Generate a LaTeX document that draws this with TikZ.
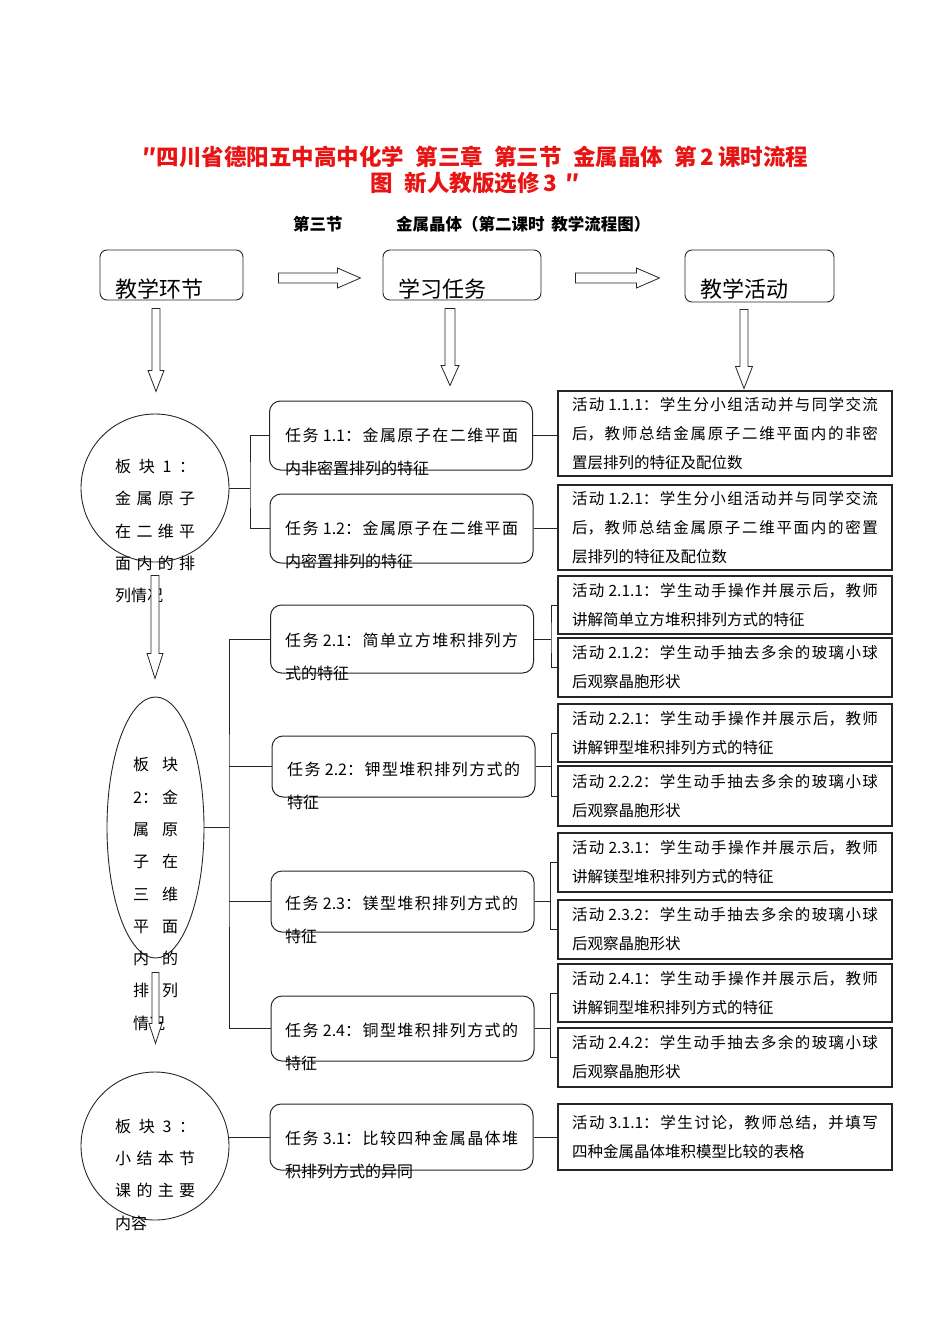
\documentclass[tikz,border=0pt]{standalone}
\usepackage{fontspec}
\setmainfont{Noto Sans CJK SC}
\XeTeXlinebreaklocale "zh"
\XeTeXlinebreakskip=0pt plus 4pt
\usepackage{xcolor}
\usepackage{tikz}
\usetikzlibrary{shapes.geometric}
\definecolor{titlered}{RGB}{232,20,20}
\tikzset{
  headbox/.style={draw=black!85,line width=0.9pt,rounded corners=7pt,inner sep=0pt},
  headtext/.style={font=\fontsize{22pt}{26pt}\selectfont,inner sep=0pt},
  taskbox/.style={draw=black!85,line width=1pt,rounded corners=11pt,minimum width=263pt,inner sep=0pt},
  tasktext/.style={font=\fontsize{16pt}{33pt}\selectfont,text width=233pt,align=justify,inner sep=0pt},
  actbox/.style={draw=black!85,line width=1.3pt,text width=306pt,inner xsep=14pt,inner ysep=0pt,align=justify,font=\fontsize{15.5pt}{29pt}\selectfont},
  blocktext/.style={font=\fontsize{16pt}{32.3pt}\selectfont,inner sep=0pt,align=left},
  blockshape/.style={draw=black!85,line width=0.9pt,inner sep=0pt},
  arrowshape/.style={draw=black!85,line width=0.8pt,fill=white},
  link/.style={draw=black!85,line width=1pt}
}

\begin{document}
\begin{tikzpicture}[x=1pt,y=-1pt]
%\draw[color=black!20,step=50] (0,0) grid (950,1344);
\useasboundingbox (0,0) rectangle (950,1344);
\node[font=\fontsize{22.5pt}{26pt}\selectfont\bfseries,text=titlered,align=center,inner sep=0pt] (title) at (475.5,170) {″四川省德阳五中高中化学\hspace{0.5em}第三章\hspace{0.5em}第三节\hspace{0.5em}金属晶体\hspace{0.5em}第\,2\,课时流程\\图\hspace{0.5em}新人教版选修\,3\hspace{0.4em}″};
\node[font=\fontsize{16.5pt}{20pt}\selectfont\bfseries,anchor=west,inner sep=0pt] (sub1) at (293,224) {第三节};
\node[font=\fontsize{16.5pt}{20pt}\selectfont\bfseries,anchor=west,inner sep=0pt] (sub2) at (396,224) {金属晶体（第二课时\hspace{0.4em}教学流程图）};
% header row
\node[headbox,minimum width=143pt,minimum height=50pt] (h1) at (171.5,275) {};
\node[headbox,minimum width=158pt,minimum height=50pt] (h2) at (462,275) {};
\node[headbox,minimum width=149pt,minimum height=52pt] (h3) at (759.5,276) {};
\node[headtext,anchor=west] (h1t) at (115,289) {教学环节};
\node[headtext,anchor=west] (h2t) at (398,289) {学习任务};
\node[headtext,anchor=west] (h3t) at (700,289) {教学活动};
\begin{scope}[shift={(h1.east)}]
\draw[arrowshape] (35,-2) -- (94,-2) -- (94,-7) -- (117,3) -- (94,13) -- (94,8) -- (35,8) -- cycle;
\end{scope}
\begin{scope}[shift={(h2.east)}]
\draw[arrowshape] (34,-2) -- (95,-2) -- (95,-7) -- (118,3) -- (95,13) -- (95,8) -- (34,8) -- cycle;
\end{scope}
\begin{scope}[shift={([xshift=-15.5pt]h1.south)}]
\draw[arrowshape] (-4,8) -- (4,8) -- (4,70) -- (8,70) -- (0,91) -- (-8,70) -- (-4,70) -- cycle;
\end{scope}
\begin{scope}[shift={([xshift=-12pt]h2.south)}]
\draw[arrowshape] (-5,8) -- (5,8) -- (5,65) -- (9,65) -- (0,85) -- (-9,65) -- (-5,65) -- cycle;
\end{scope}
\begin{scope}[shift={([xshift=-15.5pt]h3.south)}]
\draw[arrowshape] (-4,7) -- (4,7) -- (4,64) -- (8.5,64) -- (0,86) -- (-8.5,64) -- (-4,64) -- cycle;
\end{scope}
% blocks
\node[blockshape,circle,minimum size=148pt] (c1) at (155,488) {};
\node[blockshape,ellipse,minimum width=97pt,minimum height=261pt] (c2) at (155.5,827.5) {};
\node[blockshape,circle,minimum size=148pt] (c3) at (155,1146) {};
\node[blocktext,anchor=west] (c1t) at (115,531) {\makebox[80pt][s]{板\hfill 块\hfill 1\hfill ：}\\\makebox[80pt][s]{金\hfill 属\hfill 原\hfill 子}\\\makebox[80pt][s]{在\hfill 二\hfill 维\hfill 平}\\\makebox[80pt][s]{面\hfill 内\hfill 的\hfill 排}\\列情况};
\node[blocktext,anchor=west] (c2t) at (133,894) {\makebox[45pt][s]{板\hfill 块}\\\makebox[45pt][s]{2：\hfill 金}\\\makebox[45pt][s]{属\hfill 原}\\\makebox[45pt][s]{子\hfill 在}\\\makebox[45pt][s]{三\hfill 维}\\\makebox[45pt][s]{平\hfill 面}\\\makebox[45pt][s]{内\hfill 的}\\\makebox[45pt][s]{排\hfill 列}\\情况};
\node[blocktext,anchor=west] (c3t) at (115,1174.5) {\makebox[80pt][s]{板\hfill 块\hfill 3\hfill ：}\\\makebox[80pt][s]{小\hfill 结\hfill 本\hfill 节}\\\makebox[80pt][s]{课\hfill 的\hfill 主\hfill 要}\\内容};
\begin{scope}[shift={(c1.south)}]
\draw[arrowshape] (-4,13) -- (4,13) -- (4,91) -- (8,91) -- (0,116) -- (-8,91) -- (-4,91) -- cycle;
\end{scope}
\begin{scope}[shift={(c2.south)}]
\draw[arrowshape] (-3.5,14) -- (3.5,14) -- (3.5,65) -- (6.5,65) -- (0,85) -- (-6.5,65) -- (-3.5,65) -- cycle;
\end{scope}
% tasks
\node[taskbox,minimum height=69pt] (t11) at (401,435.5) {};
\node[taskbox,minimum height=69pt] (t12) at (401.5,528.5) {};
\node[taskbox,minimum height=68pt] (t21) at (402,639) {};
\node[taskbox,minimum height=61pt] (t22) at (403.5,766.5) {};
\node[taskbox,minimum height=61pt] (t23) at (402.5,901.5) {};
\node[taskbox,minimum height=65pt] (t24) at (402.5,1028.5) {};
\node[taskbox,minimum height=66pt] (t31) at (401.5,1137) {};
\node[tasktext,anchor=west] (t11t) at (285,451.5) {任务 1.1：金属原子在二维平面\linebreak 内非密置排列的特征};
\node[tasktext,anchor=west] (t12t) at (285,544.5) {任务 1.2：金属原子在二维平面\linebreak 内密置排列的特征};
\node[tasktext,anchor=west] (t21t) at (285,656.5) {任务 2.1：简单立方堆积排列方\linebreak 式的特征};
\node[tasktext,anchor=west] (t22t) at (287,785.5) {任务 2.2：钾型堆积排列方式的\linebreak 特征};
\node[tasktext,anchor=west] (t23t) at (285,920) {任务 2.3：镁型堆积排列方式的\linebreak 特征};
\node[tasktext,anchor=west] (t24t) at (285,1046.5) {任务 2.4：铜型堆积排列方式的\linebreak 特征};
\node[tasktext,anchor=west] (t31t) at (285,1154.5) {任务 3.1：比较四种金属晶体堆\linebreak 积排列方式的异同};
% activities
\node[actbox,minimum height=85pt] (a111) at (725,433.5) {活动 1.1.1：学生分小组活动并与同学交流\linebreak 后，教师总结金属原子二维平面内的非密\linebreak 置层排列的特征及配位数};
\node[actbox,minimum height=85pt] (a121) at (725,527.5) {活动 1.2.1：学生分小组活动并与同学交流\linebreak 后，教师总结金属原子二维平面内的密置\linebreak 层排列的特征及配位数};
\node[actbox,minimum height=58pt] (a211) at (725,605) {活动 2.1.1：学生动手操作并展示后，教师\linebreak 讲解简单立方堆积排列方式的特征};
\node[actbox,minimum height=59pt] (a212) at (725,667.5) {活动 2.1.2：学生动手抽去多余的玻璃小球\linebreak 后观察晶胞形状};
\node[actbox,minimum height=58pt] (a221) at (725,733) {活动 2.2.1：学生动手操作并展示后，教师\linebreak 讲解钾型堆积排列方式的特征};
\node[actbox,minimum height=60pt] (a222) at (725,796) {活动 2.2.2：学生动手抽去多余的玻璃小球\linebreak 后观察晶胞形状};
\node[actbox,minimum height=59pt] (a231) at (725,862.5) {活动 2.3.1：学生动手操作并展示后，教师\linebreak 讲解镁型堆积排列方式的特征};
\node[actbox,minimum height=59pt] (a232) at (725,929.5) {活动 2.3.2：学生动手抽去多余的玻璃小球\linebreak 后观察晶胞形状};
\node[actbox,minimum height=58pt] (a241) at (725,993) {活动 2.4.1：学生动手操作并展示后，教师\linebreak 讲解铜型堆积排列方式的特征};
\node[actbox,minimum height=59pt] (a242) at (725,1057.5) {活动 2.4.2：学生动手抽去多余的玻璃小球\linebreak 后观察晶胞形状};
\node[actbox,minimum height=66pt] (a311) at (725,1137) {活动 3.1.1：学生讨论，教师总结，并填写\linebreak 四种金属晶体堆积模型比较的表格};
% links
\coordinate (k1) at (250,488);
\coordinate (k2) at (229,827.5);
\draw[link] (c1.east) -- (k1);
\draw[link] (t11.west) -| (k1) |- (t12.west);
\draw[link] (c2.east) -- (k2);
\draw[link] (t21.west) -| (k2) |- (t24.west);
\draw[link] (t22.west) -- (t22.west -| k2);
\draw[link] (t23.west) -- (t23.west -| k2);
\draw[link] (t31.west) -- (t31.west -| c3.east);
\draw[link] (t11.east) -- (t11.east -| a111.west);
\draw[link] (t12.east) -- (t12.east -| a121.west);
\coordinate (q21) at ([xshift=17pt]t21.east);
\coordinate (q22) at ([xshift=16pt]t22.east);
\coordinate (q23) at ([xshift=16pt]t23.east);
\coordinate (q24) at ([xshift=16pt]t24.east);
\draw[link] (t21.east) -- (q21);
\draw[link] (a211.west) -| (q21) |- (a212.west);
\draw[link] (t22.east) -- (q22);
\draw[link] (a221.west) -| (q22) |- (a222.west);
\draw[link] (t23.east) -- (q23);
\draw[link] (a231.west) -| (q23) |- (a232.west);
\draw[link] (t24.east) -- (q24);
\draw[link] (a241.west) -| (q24) |- (a242.west);
\draw[link] (t31.east) -- (t31.east -| a311.west);
\end{tikzpicture}
\end{document}
